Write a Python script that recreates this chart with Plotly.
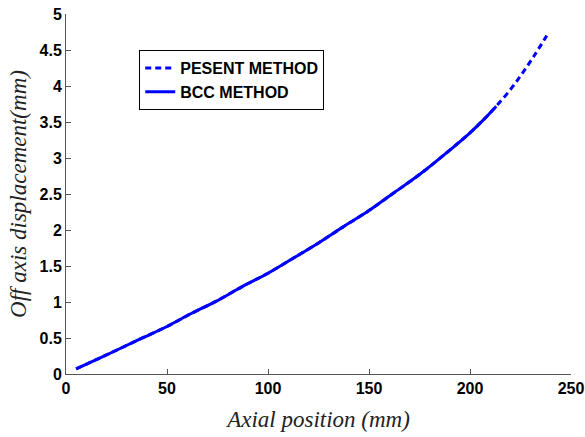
import plotly.graph_objects as go

# Data
present_x = [5, 15, 25, 37, 50, 62, 75, 87, 100, 112, 125, 137, 150, 162, 175, 187, 200, 207, 213, 220, 226, 232, 238]
present_y = [0.07, 0.20, 0.33, 0.49, 0.66, 0.84, 1.02, 1.21, 1.40, 1.60, 1.82, 2.04, 2.27, 2.51, 2.77, 3.04, 3.35, 3.54, 3.72, 3.95, 4.18, 4.43, 4.70]
bcc_x = [5, 15, 25, 37, 50, 62, 75, 87, 100, 112, 125, 137, 150, 162, 175, 187, 200, 207, 213]
bcc_y = [0.07, 0.20, 0.33, 0.49, 0.66, 0.84, 1.02, 1.21, 1.40, 1.60, 1.82, 2.04, 2.27, 2.51, 2.77, 3.04, 3.35, 3.54, 3.72]

fig = go.Figure()
fig.add_trace(go.Scatter(x=present_x, y=present_y, mode="lines", name="PESENT METHOD",
                         line=dict(color="#0000ff", width=3, dash="6px,4px", shape="spline")))
fig.add_trace(go.Scatter(x=bcc_x, y=bcc_y, mode="lines", name="BCC METHOD",
                         line=dict(color="#0000ff", width=3, shape="spline")))

tickfont = dict(family="Liberation Sans, Arial", size=16, color="black", weight="bold")
titlefont = dict(family="Liberation Serif, Times New Roman", size=23, color="#222", style="italic")

fig.update_layout(
    width=585, height=437,
    margin=dict(l=66, r=14, t=14, b=63),
    paper_bgcolor="white", plot_bgcolor="white",
    showlegend=True,
    legend=dict(x=0.145, y=0.9, xanchor="left", yanchor="top",
                bordercolor="black", borderwidth=1, bgcolor="white",
                font=dict(family="Liberation Sans, Arial", size=16, color="black", weight="bold"),
                tracegroupgap=0, itemwidth=30),
    xaxis=dict(range=[0, 250], tickvals=[0, 50, 100, 150, 200, 250], showgrid=False,
               zeroline=False, showline=True, linecolor="#555", linewidth=1, automargin=False,
               ticks="inside", ticklen=5, tickcolor="#555", tickfont=tickfont,
               title=dict(text="Axial position (mm)", font=titlefont, standoff=14)),
    yaxis=dict(range=[0, 5], tickvals=[0, 0.5, 1, 1.5, 2, 2.5, 3, 3.5, 4, 4.5, 5],
               ticktext=["0", "0.5", "1", "1.5", "2", "2.5", "3", "3.5", "4", "4.5", "5"],
               showgrid=False, zeroline=False, showline=True, linecolor="#555", linewidth=1, automargin=False,
               ticks="inside", ticklen=5, tickcolor="#555", tickfont=tickfont,
               title=dict(text="Off axis displacement(mm)", font=titlefont, standoff=6)),
)

fig.write_html("out.html")
